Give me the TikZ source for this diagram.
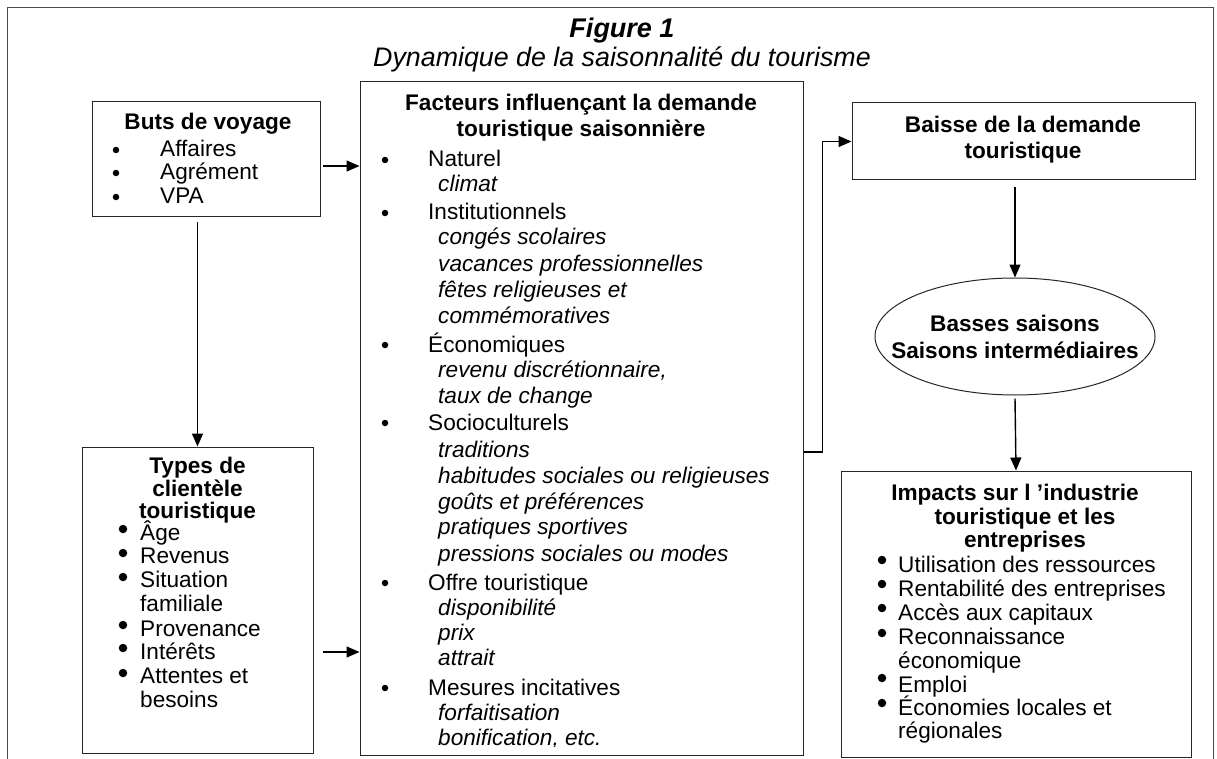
\documentclass[tikz,border=0pt]{standalone}
\usepackage{fontspec}
\setmainfont{Liberation Sans}
\usetikzlibrary{arrows.meta,shapes.geometric,calc}
\begin{document}
\begin{tikzpicture}[x=1pt,y=-1pt,
  box/.style={draw=black!85,line width=1pt,inner sep=0pt,rectangle},
  frame/.style={draw=black!70,line width=1pt},
  arr/.style={line width=1.4pt,-{Triangle[length=13pt,width=11pt]}},
  txt/.style={inner sep=0pt,anchor=base west,font=\fontsize{22.6}{26}\selectfont},
  itxt/.style={inner sep=0pt,anchor=base west,font=\fontsize{22.6}{26}\selectfont\itshape},
  btxt/.style={inner sep=0pt,anchor=base,font=\fontsize{22.6}{26}\selectfont\bfseries},
  sdot/.style={circle,fill=black,inner sep=0pt,minimum size=6.5pt},
  bdot/.style={circle,fill=black,inner sep=0pt,minimum size=8.5pt},
]
\useasboundingbox (0,0) rectangle (1217,759);
\fill[white] (0,0) rectangle (1217,759);
% outer frame
\draw[frame] (7,760) -- (7,8) -- (1213,8) -- (1213,760);
% titles
\node[inner sep=0pt,anchor=base,font=\fontsize{27}{32}\selectfont\bfseries\itshape] (fig) at (622,38) {Figure 1};
\node[inner sep=0pt,anchor=base,font=\fontsize{26.8}{32}\selectfont\itshape] (sub) at (622,67) {Dynamique de la saisonnalité du tourisme};

% boxes
\node[box,minimum width=228pt,minimum height=115pt] (buts) at (206,159.5) {};
\node[box,minimum width=443pt,minimum height=673pt] (fact) at (581.5,418.5) {};
\node[box,minimum width=231pt,minimum height=306pt] (types) at (197.5,600) {};
\node[box,minimum width=343pt,minimum height=77pt] (baisse) at (1023.5,141.5) {};
\node[draw=black!85,line width=1pt,ellipse,inner sep=0pt,minimum width=280pt,minimum height=117pt] (ell) at (1015,336.5) {};
\node[box,minimum width=350pt,minimum height=286pt] (imp) at (1016,614) {};

% Buts de voyage
\node[btxt] (b0) at (208,130) {Buts de voyage};
\node[sdot] (bd1) at (116,150) {};
\node[sdot] (bd2) at (116,173) {};
\node[sdot] (bd3) at (116,197) {};
\node[txt] (b1) at (160,157) {Affaires};
\node[txt] (b2) at (160,180) {Agrément};
\node[txt] (b3) at (160,204) {VPA};

% Facteurs
\node[btxt] (f0a) at (581,111) {Facteurs influençant la demande};
\node[btxt] (f0b) at (581,137) {touristique saisonnière};
\foreach \y/\n in {160/1,213/2,345/3,423/4,583/5,688/6}
  \node[sdot] (fd\n) at (385,\y) {};
\node[txt] (f1) at (428,167) {Naturel};
\node[itxt] (f1a) at (438,192) {climat};
\node[txt] (f2) at (428,220) {Institutionnels};
\node[itxt] (f2a) at (438,245) {congés scolaires};
\node[itxt] (f2b) at (438,271) {vacances professionnelles};
\node[itxt] (f2c) at (438,297) {fêtes religieuses et};
\node[itxt] (f2d) at (438,323) {commémoratives};
\node[txt] (f3) at (428,352) {Économiques};
\node[itxt] (f3a) at (438,377) {revenu discrétionnaire,};
\node[itxt] (f3b) at (438,403) {taux de change};
\node[txt] (f4) at (428,430) {Socioculturels};
\node[itxt] (f4a) at (438,457) {traditions};
\node[itxt] (f4b) at (438,483) {habitudes sociales ou religieuses};
\node[itxt] (f4c) at (438,509) {goûts et préférences};
\node[itxt] (f4d) at (438,534) {pratiques sportives};
\node[itxt] (f4e) at (438,561) {pressions sociales ou modes};
\node[txt] (f5) at (428,590) {Offre touristique};
\node[itxt] (f5a) at (438,615) {disponibilité};
\node[itxt] (f5b) at (438,640) {prix};
\node[itxt] (f5c) at (438,665) {attrait};
\node[txt] (f6) at (428,695) {Mesures incitatives};
\node[itxt] (f6a) at (438,720) {forfaitisation};
\begin{scope}
  \clip (360,700) rectangle (803,746);
  \node[itxt] (f6b) at (438,745) {bonification, etc.};
\end{scope}

% Types de clientele
\node[btxt] (t0a) at (197.5,473) {Types de};
\node[btxt] (t0b) at (197.5,496) {clientèle};
\node[btxt] (t0c) at (197.5,518) {touristique};
\foreach \y/\n in {529/1,553/2,577/3,625/4,648/5,673/6}
  \node[bdot] (td\n) at (123,\y) {};
\node[txt] (t1) at (140,540) {Âge};
\node[txt] (t2) at (140,563) {Revenus};
\node[txt] (t3) at (140,587) {Situation};
\node[txt] (t3b) at (140,611) {familiale};
\node[txt] (t4) at (140,636) {Provenance};
\node[txt] (t5) at (140,659) {Intérêts};
\node[txt] (t6) at (140,683) {Attentes et};
\node[txt] (t6b) at (140,707) {besoins};

% Baisse
\node[btxt] (ba1) at (1023,133) {Baisse de la demande};
\node[btxt] (ba2) at (1023,159) {touristique};

% Ellipse
\node[btxt] (e1) at (1015,331) {Basses saisons};
\node[btxt] (e2) at (1015,358) {Saisons intermédiaires};

% Impacts
\node[btxt] (i0a) at (1015,500) {Impacts sur l ’industrie};
\node[btxt] (i0b) at (1025,524) {touristique et les};
\node[btxt] (i0c) at (1025,547) {entreprises};
\foreach \y/\n in {560/1,584/2,608/3,633/4,678/5,703/6}
  \node[bdot] (id\n) at (882,\y) {};
\node[txt] (i1) at (898,572) {Utilisation des ressources};
\node[txt] (i2) at (898,596) {Rentabilité des entreprises};
\node[txt] (i3) at (898,620) {Accès aux capitaux};
\node[txt] (i4) at (898,644) {Reconnaissance};
\node[txt] (i4b) at (898,668) {économique};
\node[txt] (i5) at (898,692) {Emploi};
\node[txt] (i6) at (898,715) {Économies locales et};
\node[txt] (i6b) at (898,738) {régionales};

% connectors
\draw[arr] ([xshift=2pt,yshift=-6.5pt]buts.east) coordinate (s1) -- (s1 -| fact.west);
\draw[arr] (types.north |- buts.south) ++(0,5) -- (types.north);
\draw[arr] ([xshift=9pt,yshift=-52pt]types.east) coordinate (s2) -- (s2 -| fact.west);
\draw[arr] (fact.east) ++(0,33.5) -- ++(19,0) |- (baisse.west);
\draw[arr] (ell.north |- baisse.south) ++(0,7) -- (ell.north);
\draw[arr] (ell.south) ++(0,3) -- (imp.north);
\end{tikzpicture}
\end{document}
